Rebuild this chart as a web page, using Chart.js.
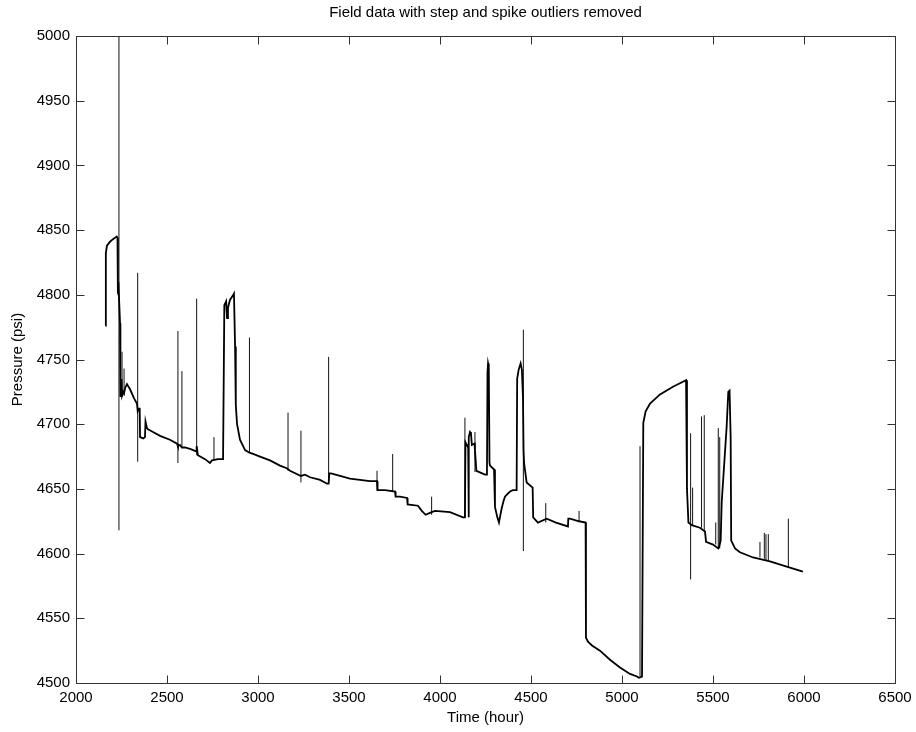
<!DOCTYPE html>
<html>
<head>
<meta charset="utf-8">
<script src="https://cdn.jsdelivr.net/npm/chart.js@4.4.1/dist/chart.umd.min.js"></script>
<style>
  html, body { margin: 0; padding: 0; background: #fff; }
  #wrap { width: 916px; height: 732px; }
</style>
</head>
<body>
<div id="wrap"><canvas id="graf" width="916" height="732"></canvas></div>
<script>
// main pressure trace (hours, psi)
let time = [2163,2164,2170,2187,2203,2224,2228,2230,2234,
  2242,2243,2245,2250,2253,2260,2264,2270,2280,2297,2319,2335,2339,2346,2350,2352,2370,2379,2382,2390,2396,
  2423,2462,2516,2555,2560,2571,2582,2599,2626,2643,2660,2663,2670,2709,2736,2747,2780,2808,2813,
  2815,2825,2830,2835,2846,2860,2868,2874,2878,2885,2901,2929,2953,2973,3011,3066,3121,3158,3176,
  3236,3258,3286,3341,3379,3388,3392,3401,3451,3505,3560,3615,3654,3657,3698,3753,3756,3780,3819,3822,
  3879,3900,3921,3954,3973,4055,4126,4137,4140,4155,4157,4159,4165,4170,4175,4190,4192,4200,4247,4258,
  4261,4264,4268,4272,4275,4297,4302,4315,4324,4332,4339,4348,4357,4370,4385,4401,4421,4424,4432,4443,
  4450,4456,4459,4462,4476,4509,4512,4538,4586,4637,4703,4705,4714,4764,4800,4802,4813,4835,4879,4934,
  4989,5044,5082,5093,5110,5117,5130,5154,5209,5280,5352,5357,5365,5383,5428,5456,5462,5500,5529,5533,
  5542,5548,5575,5584,5591,5597,5600,5621,5648,5720,5813,5905,5994]
let pressure = [4776,4832,4838,4841,4843,4845,4844,4804,4806,
  4778,4721,4722,4735,4722,4725,4724,4728,4731,4727,4720,4716,4710,4712,4712,4690,4689,4690,4702,4697,4696,
  4694,4691,4688,4685,4683,4684,4682,4682,4681,4680,4679,4683,4676,4673,4670,4672,4673,4673,4673,
  4792,4795,4782,4790,4796,4799,4801,4760,4715,4700,4688,4680,4678,4677,4675,4672,4668,4666,4664,
  4660,4661,4659,4657,4654,4654,4662,4662,4660,4658,4657,4656,4656,4649,4649,4648,4644,4644,4643,4638,
  4637,4633,4630,4632,4633,4632,4628,4628,4686,4682,4628,4690,4694,4693,4684,4685,4680,4664,4661,4661,
  4740,4747,4744,4670,4668,4665,4636,4628,4624,4630,4635,4640,4644,4646,4648,4649,4649,4735,4742,4747,
  4742,4720,4680,4670,4655,4651,4628,4624,4627,4624,4621,4627,4627,4625,4624,4535,4532,4529,4525,4518,
  4512,4507,4505,4504,4505,4701,4710,4716,4723,4729,4734,4650,4624,4622,4620,4617,4609,4607,4604,4605,
  4610,4640,4698,4725,4726,4690,4610,4604,4601,4597,4594,4590,4586]

// spike outliers left in the record
let spikeTime = [2236,2253,2264,2339,2560,2582,2663,2758,2953,3165,3236,3388,3654,3740,3954,4137,4192,
  4458,4581,4764,5099,5377,5388,5437,5452,5515,5529,5537,5758,5782,5791,5804,5914]
let spikeLow  = [4618,4721,4722,4671,4670,4682,4676,4672,4678,4664,4655,4654,4649,4648,4630,4628,4663,
  4602,4624,4625,4505,4580,4622,4620,4618,4607,4604,4604,4597,4596,4595,4595,4589]
let spikeHigh = [5000,4756,4743,4817,4772,4741,4797,4690,4767,4709,4695,4752,4664,4677,4644,4705,4694,
  4773,4639,4633,4683,4693,4651,4706,4707,4624,4697,4690,4609,4616,4615,4615,4627]

let xTicks = [2000,2500,3000,3500,4000,4500,5000,5500,6000,6500]
let yTicks = [4500,4550,4600,4650,4700,4750,4800,4850,4900,4950,5000]
let titleText = 'Field data with step and spike outliers removed'

let trace = time.map((t, i) => ({x: t, y: pressure[i]}))
let spikes = []
for (let i = 0; i < spikeTime.length; i++) {
  spikes.push({x: spikeTime[i], y: spikeLow[i]})
  spikes.push({x: spikeTime[i], y: spikeHigh[i]})
  spikes.push({x: spikeTime[i], y: null})
}

// matlab style box with inward ticks, title centred over the axes
const boxTicks = {
  id: 'boxTicks',
  afterDraw(chart) {
    const ctx = chart.ctx
    const a = chart.chartArea
    const xs = chart.scales.x, ys = chart.scales.y
    const L = Math.round(a.left) + 0.5, R = Math.round(a.right) + 0.5
    const T = Math.round(a.top) + 0.5, B = Math.round(a.bottom) + 0.5
    ctx.save()
    ctx.strokeStyle = '#333'
    ctx.lineWidth = 1
    ctx.strokeRect(L, T, R - L, B - T)
    ctx.beginPath()
    xTicks.forEach(v => {
      const p = Math.round(xs.getPixelForValue(v)) + 0.5
      ctx.moveTo(p, B); ctx.lineTo(p, B - 8)
      ctx.moveTo(p, T); ctx.lineTo(p, T + 8)
    })
    yTicks.forEach(v => {
      const p = Math.round(ys.getPixelForValue(v)) + 0.5
      ctx.moveTo(L, p); ctx.lineTo(L + 8, p)
      ctx.moveTo(R, p); ctx.lineTo(R - 8, p)
    })
    ctx.stroke()
    ctx.fillStyle = '#000'
    ctx.font = '15px "Liberation Sans"'
    ctx.textAlign = 'center'
    ctx.textBaseline = 'middle'
    ctx.fillText(titleText, (a.left + a.right) / 2, 13)
    ctx.restore()
  }
}

const tickFont = {family: 'Liberation Sans', size: 15}
const graph = document.getElementById('graf')
new Chart(graph, {
  type: 'line',
  data: {
    datasets: [{
      data: trace,
      borderColor: '#000',
      borderWidth: 1.8,
      pointRadius: 0,
      tension: 0
    }, {
      data: spikes,
      borderColor: '#111',
      borderWidth: 1,
      pointRadius: 0,
      spanGaps: false,
      tension: 0
    }]
  },
  options: {
    responsive: false,
    animation: false,
    layout: {padding: {left: 0, right: 21, top: 36, bottom: 0}},
    scales: {
      x: {
        type: 'linear',
        min: 2000, max: 6500,
        afterBuildTicks: s => { s.ticks = xTicks.map(v => ({value: v})) },
        afterFit: s => { s.height = 49; s.paddingLeft = 0; s.paddingRight = 0 },
        grid: {display: false, drawTicks: false},
        border: {display: false},
        ticks: {color: '#000', font: tickFont, padding: 6, maxRotation: 0, callback: v => String(v)},
        title: {display: true, text: 'Time (hour)', color: '#000', font: tickFont, padding: {top: 0, bottom: 5}}
      },
      y: {
        min: 4500, max: 5000,
        afterBuildTicks: s => { s.ticks = yTicks.map(v => ({value: v})) },
        afterFit: s => { s.width = 76 },
        grid: {display: false, drawTicks: false},
        border: {display: false},
        ticks: {color: '#000', font: tickFont, padding: 6, callback: v => String(v)},
        title: {display: true, text: 'Pressure (psi)', color: '#000', font: tickFont, padding: {top: 9, bottom: 0}}
      }
    },
    plugins: {
      legend: {display: false},
      tooltip: {enabled: false},
      title: {display: false}
    }
  },
  plugins: [boxTicks]
})
</script>
</body>
</html>
